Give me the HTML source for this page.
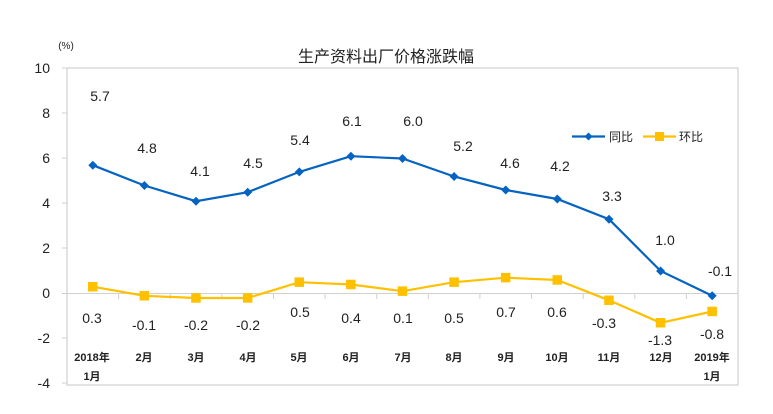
<!DOCTYPE html>
<html><head><meta charset="utf-8"><style>
body{margin:0;background:#fff;}
svg text{font-family:"Liberation Sans","Noto Sans CJK SC",sans-serif;fill:#222;}
</style></head><body>
<svg width="773" height="409" viewBox="0 0 773 409" xmlns="http://www.w3.org/2000/svg">
<rect x="0" y="0" width="773" height="409" fill="#fff"/>
<text x="386" y="62" font-size="16" text-anchor="middle" fill="#111">生产资料出厂价格涨跌幅</text>
<text x="66" y="49" font-size="10" text-anchor="middle">(%)</text>
<rect x="67" y="68" width="671" height="317" fill="none" stroke="#d0d0d0" stroke-width="1.2"/>
<g font-size="14" text-anchor="end">
<text x="50" y="73">10</text><text x="50" y="118">8</text><text x="50" y="163">6</text><text x="50" y="208">4</text>
<text x="50" y="253">2</text><text x="50" y="298">0</text><text x="50" y="343">-2</text><text x="50" y="388">-4</text>
</g>
<g stroke="#d0d0d0" stroke-width="1">
<line x1="62" y1="68" x2="67" y2="68"/><line x1="62" y1="113" x2="67" y2="113"/><line x1="62" y1="158" x2="67" y2="158"/>
<line x1="62" y1="203" x2="67" y2="203"/><line x1="62" y1="248" x2="67" y2="248"/><line x1="62" y1="293.5" x2="67" y2="293.5"/>
<line x1="62" y1="338" x2="67" y2="338"/><line x1="62" y1="383" x2="67" y2="383"/>
<line x1="67" y1="293.5" x2="738" y2="293.5"/>
<line x1="118.6" y1="293.5" x2="118.6" y2="299"/><line x1="170.2" y1="293.5" x2="170.2" y2="299"/><line x1="221.8" y1="293.5" x2="221.8" y2="299"/>
<line x1="273.5" y1="293.5" x2="273.5" y2="299"/><line x1="325.1" y1="293.5" x2="325.1" y2="299"/><line x1="376.7" y1="293.5" x2="376.7" y2="299"/>
<line x1="428.3" y1="293.5" x2="428.3" y2="299"/><line x1="479.9" y1="293.5" x2="479.9" y2="299"/><line x1="531.5" y1="293.5" x2="531.5" y2="299"/>
<line x1="583.2" y1="293.5" x2="583.2" y2="299"/><line x1="634.8" y1="293.5" x2="634.8" y2="299"/><line x1="686.4" y1="293.5" x2="686.4" y2="299"/>
</g>
<polyline fill="none" stroke="#0563C1" stroke-width="2.2" points="92.8,165.2 144.4,185.5 196,201.2 247.7,192.2 299.3,171.9 350.9,156.2 402.5,158.5 454.1,176.5 505.7,190 557.3,199 609,219.2 660.6,271 712.2,295.8"/>
<g fill="#0563C1">
<path d="M92.8,160.7l4.5,4.5l-4.5,4.5l-4.5,-4.5z"/><path d="M144.4,181l4.5,4.5l-4.5,4.5l-4.5,-4.5z"/><path d="M196,196.7l4.5,4.5l-4.5,4.5l-4.5,-4.5z"/>
<path d="M247.7,187.7l4.5,4.5l-4.5,4.5l-4.5,-4.5z"/><path d="M299.3,167.4l4.5,4.5l-4.5,4.5l-4.5,-4.5z"/><path d="M350.9,151.7l4.5,4.5l-4.5,4.5l-4.5,-4.5z"/>
<path d="M402.5,154l4.5,4.5l-4.5,4.5l-4.5,-4.5z"/><path d="M454.1,172l4.5,4.5l-4.5,4.5l-4.5,-4.5z"/><path d="M505.7,185.5l4.5,4.5l-4.5,4.5l-4.5,-4.5z"/>
<path d="M557.3,194.5l4.5,4.5l-4.5,4.5l-4.5,-4.5z"/><path d="M609,214.7l4.5,4.5l-4.5,4.5l-4.5,-4.5z"/><path d="M660.6,266.5l4.5,4.5l-4.5,4.5l-4.5,-4.5z"/>
<path d="M712.2,291.3l4.5,4.5l-4.5,4.5l-4.5,-4.5z"/>
</g>
<polyline fill="none" stroke="#FFC000" stroke-width="2.2" points="92.8,286.7 144.4,295.8 196,298 247.7,298 299.3,282.2 350.9,284.5 402.5,291.2 454.1,282.2 505.7,277.7 557.3,280 609,300.3 660.6,322.8 712.2,311.5"/>
<g fill="#FFC000">
<rect x="88" y="282" width="9.5" height="9.5"/><rect x="139.6" y="291" width="9.5" height="9.5"/><rect x="191.2" y="293.2" width="9.5" height="9.5"/>
<rect x="242.9" y="293.2" width="9.5" height="9.5"/><rect x="294.5" y="277.4" width="9.5" height="9.5"/><rect x="346.1" y="279.7" width="9.5" height="9.5"/>
<rect x="397.7" y="286.4" width="9.5" height="9.5"/><rect x="449.3" y="277.4" width="9.5" height="9.5"/><rect x="500.9" y="272.9" width="9.5" height="9.5"/>
<rect x="552.5" y="275.2" width="9.5" height="9.5"/><rect x="604.2" y="295.5" width="9.5" height="9.5"/><rect x="655.8" y="318" width="9.5" height="9.5"/>
<rect x="707.4" y="306.7" width="9.5" height="9.5"/>
</g>
<g font-size="14" text-anchor="middle">
<text x="100" y="101">5.7</text><text x="147" y="153">4.8</text><text x="200" y="176">4.1</text><text x="253" y="168">4.5</text>
<text x="300" y="145">5.4</text><text x="352" y="126">6.1</text><text x="413" y="126">6.0</text><text x="463" y="151">5.2</text>
<text x="510" y="168">4.6</text><text x="560" y="171">4.2</text><text x="612" y="201">3.3</text><text x="665" y="245">1.0</text>
<text x="720" y="276">-0.1</text>
<text x="92" y="323">0.3</text><text x="144" y="330">-0.1</text><text x="196" y="330">-0.2</text><text x="248" y="330">-0.2</text>
<text x="300" y="317">0.5</text><text x="351" y="323">0.4</text><text x="403" y="323">0.1</text><text x="454" y="323">0.5</text>
<text x="506" y="317">0.7</text><text x="557" y="317">0.6</text><text x="604" y="328">-0.3</text><text x="660" y="345">-1.3</text>
<text x="712" y="339">-0.8</text>
</g>
<g font-size="11" text-anchor="middle" font-weight="bold" fill="#333">
<text x="92" y="361">2018年</text><text x="92" y="380">1月</text>
<text x="144" y="361">2月</text><text x="196" y="361">3月</text><text x="248" y="361">4月</text><text x="299" y="361">5月</text>
<text x="351" y="361">6月</text><text x="403" y="361">7月</text><text x="454" y="361">8月</text><text x="506" y="361">9月</text>
<text x="557" y="361">10月</text><text x="609" y="361">11月</text><text x="661" y="361">12月</text>
<text x="712" y="361">2019年</text><text x="712" y="380">1月</text>
</g>
<line x1="572" y1="136.5" x2="605" y2="136.5" stroke="#0563C1" stroke-width="2.2"/>
<path d="M588.5,132.5l4,4l-4,4l-4,-4z" fill="#0563C1"/>
<text x="609" y="141" font-size="12">同比</text>
<line x1="643" y1="136.5" x2="676" y2="136.5" stroke="#FFC000" stroke-width="2.2"/>
<rect x="655" y="132" width="9" height="9" fill="#FFC000"/>
<text x="679" y="141" font-size="12">环比</text>
</svg>
</body></html>
